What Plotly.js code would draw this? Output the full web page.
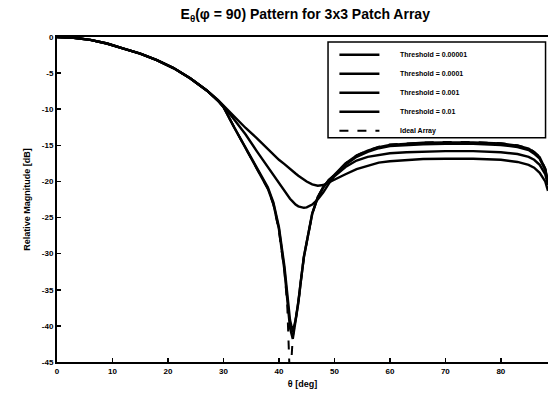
<!DOCTYPE html>
<html>
<head>
<meta charset="utf-8">
<script src="https://cdn.plot.ly/plotly-3.0.1.min.js"></script>
<style>html,body{margin:0;padding:0;background:#fff;}#chart{width:550px;height:394px;}</style>
</head>
<body>
<div id="chart"></div>
<script>
const theta = [0,3,6,9,12,15,18,21,24,27,29,30,32,34,36,38,39,40,41,41.5,42,42.5,43,43.5,44,44.5,45,46,47,48,49,50,52,54,56,58,60,63,66,70,75,80,83,85,86,87,88,88.5];

const ideal = [0,-0.1,-0.4,-0.9,-1.6,-2.3,-3.2,-4.3,-5.7,-7.4,-8.8,-9.7,-12.6,-15.4,-18.2,-21.0,-23.2,-26.8,-32.5,-37,-48,-41.5,-39.2,-36.8,-33.5,-30.5,-28.5,-24.5,-22.2,-20.8,-19.8,-19.1,-17.5,-16.4,-15.7,-15.2,-14.9,-14.7,-14.6,-14.55,-14.55,-14.7,-15.0,-15.4,-15.9,-16.6,-18.2,-20.0];

const thr00001 = [0,-0.1,-0.4,-0.9,-1.6,-2.3,-3.2,-4.3,-5.7,-7.4,-8.8,-9.7,-12.6,-15.4,-18.2,-21.0,-23.1,-26.6,-32.3,-36.3,-40.3,-41.8,-39.4,-36.8,-33.5,-30.5,-28.5,-24.5,-22.2,-20.8,-19.8,-19.1,-17.5,-16.4,-15.75,-15.25,-14.95,-14.75,-14.65,-14.6,-14.6,-14.75,-15.05,-15.45,-15.95,-16.65,-18.25,-20.05];

const thr0001 = [0,-0.1,-0.4,-0.9,-1.6,-2.3,-3.2,-4.3,-5.7,-7.4,-8.8,-9.7,-12.6,-15.3,-18.0,-20.8,-22.9,-26.3,-31.8,-35.6,-39.2,-40.8,-39.2,-36.6,-33.3,-30.4,-28.4,-24.4,-22.2,-20.8,-19.8,-19.2,-17.7,-16.6,-15.9,-15.4,-15.1,-14.95,-14.85,-14.8,-14.8,-14.95,-15.25,-15.65,-16.15,-16.85,-18.4,-20.2];

const thr001 = [0,-0.1,-0.4,-0.9,-1.6,-2.3,-3.2,-4.3,-5.7,-7.4,-8.8,-9.6,-11.5,-13.5,-15.8,-18.0,-19.1,-20.2,-21.4,-21.9,-22.4,-22.8,-23.2,-23.45,-23.6,-23.65,-23.6,-23.2,-22.5,-21.5,-20.3,-19.3,-18.0,-17.1,-16.6,-16.3,-16.1,-15.95,-15.85,-15.8,-15.8,-15.95,-16.2,-16.6,-17.0,-17.7,-19.0,-20.5];

const thr01 = [0,-0.1,-0.4,-0.9,-1.6,-2.3,-3.2,-4.3,-5.7,-7.4,-8.7,-9.5,-11.0,-12.6,-14.0,-15.5,-16.2,-17.0,-17.6,-17.95,-18.3,-18.6,-18.9,-19.2,-19.5,-19.75,-20.0,-20.4,-20.6,-20.5,-20.1,-19.7,-19.0,-18.3,-17.8,-17.4,-17.2,-17.0,-16.9,-16.85,-16.85,-17.0,-17.3,-17.7,-18.1,-18.8,-20.0,-21.3];

const names = ['Threshold = 0.00001','Threshold = 0.0001','Threshold = 0.001','Threshold = 0.01','Ideal Array'];
const xTicks = [0,10,20,30,40,50,60,70,80];
const yTicks = [0,-5,-10,-15,-20,-25,-30,-35,-40,-45];

const series = [thr00001, thr0001, thr001, thr01, ideal];
const pad = '\u00A0'.repeat(8);
const traces = series.map((ys, i) => ({
  x: theta, y: ys, type: 'scatter', mode: 'lines', name: pad + names[i],
  line: {color: '#000', width: i === 4 ? 2 : 2.4, dash: i === 4 ? 'dash' : 'solid'}
}));

const F = 'Arial, "Liberation Sans", sans-serif';
const layout = {
  width: 550, height: 394,
  margin: {l: 57, r: 2, t: 37, b: 32},
  paper_bgcolor: '#fff', plot_bgcolor: '#fff',
  title: {text: '<b>E<sub>θ</sub>(φ = 90) Pattern for 3x3 Patch Array</b>', font: {family: F, size: 14, color: '#000'}, x: 0.555, xanchor: 'center', y: 0.965, yanchor: 'middle'},
  xaxis: {range: [0, 88.5], tickvals: xTicks, ticktext: xTicks.map(v => '<b>' + v + '</b>'),
    ticks: 'inside', ticklen: 4, tickwidth: 1.5, tickcolor: '#000', showgrid: false, zeroline: false,
    showline: true, linecolor: '#000', linewidth: 2, mirror: true,
    tickfont: {family: F, size: 8, color: '#000'},
    title: {text: '<b>θ [deg]</b>', font: {family: F, size: 9, color: '#000'}, standoff: 6}},
  yaxis: {range: [-45, 0], tickvals: yTicks, ticktext: yTicks.map(v => '<b>' + v + '</b>'),
    ticks: 'inside', ticklen: 4, tickwidth: 1.5, tickcolor: '#000', showgrid: false, zeroline: false,
    showline: true, linecolor: '#000', linewidth: 2,
    tickfont: {family: F, size: 8, color: '#000'},
    title: {text: '<b>Relative Magnitude [dB]</b>', font: {family: F, size: 9, color: '#000'}, standoff: 10}},
  showlegend: true,
  legend: {x: 0.565, y: 0.99, xanchor: 'left', yanchor: 'top', bgcolor: 'rgba(255,255,255,0)',
    bordercolor: '#000', borderwidth: 0, font: {family: F, size: 7, color: '#000', weight: 'bold'},
    itemwidth: 40, tracegroupgap: 0},
  shapes: [{type: 'rect', xref: 'paper', yref: 'paper', x0: 0.552, x1: 0.995, y0: 0.69, y1: 0.985,
    line: {color: '#000', width: 1.5}, fillcolor: 'rgba(0,0,0,0)'}]
};
Plotly.newPlot('chart', traces, layout, {displayModeBar: false, staticPlot: true});
</script>
</body>
</html>
